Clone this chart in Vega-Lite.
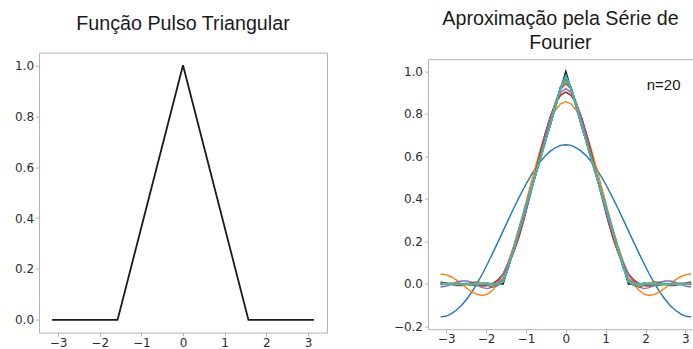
{
  "$schema": "https://vega.github.io/schema/vega-lite/v6.json",
  "background": "white",
  "padding": {"left": 13, "top": 8.6, "right": 0, "bottom": 0},
  "autosize": {"type": "pad"},
  "bounds": "flush",
  "spacing": 101,
  "config": {
    "view": {"stroke": "#b3b3b3", "strokeWidth": 1},
    "axis": {"grid": false, "domain": false, "title": null, "labelFont": "DejaVu Sans", "labelFontSize": 12, "labelColor": "#2b2b2b", "tickColor": "#b3b3b3", "tickSize": 3.5, "tickWidth": 1, "labelPadding": 2, "domainColor": "#b3b3b3", "labelFlush": false, "labelOverlap": false},
    "axisX": {"labelPadding": 1.2},
    "title": {"font": "Liberation Sans", "fontSize": 19.7, "fontWeight": "normal", "color": "#1a1a1a", "anchor": "middle", "baseline": "bottom"}
  },
  "datasets": {
    "pulse": [
      {"x": -3.1416, "y": 0}, {"x": -1.5708, "y": 0}, {"x": 0, "y": 1}, {"x": 1.5708, "y": 0}, {"x": 3.1416, "y": 0}
    ],
    "partial": [
      {"n":1,"x":-3.142,"y":-0.155},{"n":1,"x":-3.011,"y":-0.152},{"n":1,"x":-2.88,"y":-0.141},{"n":1,"x":-2.749,"y":-0.124},{"n":1,"x":-2.618,"y":-0.101},{"n":1,"x":-2.487,"y":-0.072},{"n":1,"x":-2.356,"y":-0.037},{"n":1,"x":-2.225,"y":0.003},{"n":1,"x":-2.094,"y":0.047},{"n":1,"x":-1.963,"y":0.095},{"n":1,"x":-1.833,"y":0.145},{"n":1,"x":-1.702,"y":0.197},{"n":1,"x":-1.571,"y":0.25},{"n":1,"x":-1.44,"y":0.303},{"n":1,"x":-1.309,"y":0.355},{"n":1,"x":-1.178,"y":0.405},{"n":1,"x":-1.047,"y":0.453},{"n":1,"x":-0.916,"y":0.497},{"n":1,"x":-0.785,"y":0.537},{"n":1,"x":-0.654,"y":0.572},{"n":1,"x":-0.524,"y":0.601},{"n":1,"x":-0.393,"y":0.624},{"n":1,"x":-0.262,"y":0.641},{"n":1,"x":-0.131,"y":0.652},{"n":1,"x":0,"y":0.655},{"n":1,"x":0.131,"y":0.652},{"n":1,"x":0.262,"y":0.641},{"n":1,"x":0.393,"y":0.624},{"n":1,"x":0.524,"y":0.601},{"n":1,"x":0.654,"y":0.572},{"n":1,"x":0.785,"y":0.537},{"n":1,"x":0.916,"y":0.497},{"n":1,"x":1.047,"y":0.453},{"n":1,"x":1.178,"y":0.405},{"n":1,"x":1.309,"y":0.355},{"n":1,"x":1.44,"y":0.303},{"n":1,"x":1.571,"y":0.25},{"n":1,"x":1.702,"y":0.197},{"n":1,"x":1.833,"y":0.145},{"n":1,"x":1.963,"y":0.095},{"n":1,"x":2.094,"y":0.047},{"n":1,"x":2.225,"y":0.003},{"n":1,"x":2.356,"y":-0.037},{"n":1,"x":2.487,"y":-0.072},{"n":1,"x":2.618,"y":-0.101},{"n":1,"x":2.749,"y":-0.124},{"n":1,"x":2.88,"y":-0.141},{"n":1,"x":3.011,"y":-0.152},{"n":1,"x":3.142,"y":-0.155},
      {"n":2,"x":-3.142,"y":0.047},{"n":2,"x":-3.011,"y":0.044},{"n":2,"x":-2.88,"y":0.034},{"n":2,"x":-2.749,"y":0.019},{"n":2,"x":-2.618,"y":0},{"n":2,"x":-2.487,"y":-0.019},{"n":2,"x":-2.356,"y":-0.037},{"n":2,"x":-2.225,"y":-0.049},{"n":2,"x":-2.094,"y":-0.054},{"n":2,"x":-1.963,"y":-0.048},{"n":2,"x":-1.833,"y":-0.03},{"n":2,"x":-1.702,"y":0.001},{"n":2,"x":-1.571,"y":0.047},{"n":2,"x":-1.44,"y":0.107},{"n":2,"x":-1.309,"y":0.179},{"n":2,"x":-1.178,"y":0.262},{"n":2,"x":-1.047,"y":0.351},{"n":2,"x":-0.916,"y":0.444},{"n":2,"x":-0.785,"y":0.537},{"n":2,"x":-0.654,"y":0.624},{"n":2,"x":-0.524,"y":0.702},{"n":2,"x":-0.393,"y":0.768},{"n":2,"x":-0.262,"y":0.817},{"n":2,"x":-0.131,"y":0.848},{"n":2,"x":0,"y":0.858},{"n":2,"x":0.131,"y":0.848},{"n":2,"x":0.262,"y":0.817},{"n":2,"x":0.393,"y":0.768},{"n":2,"x":0.524,"y":0.702},{"n":2,"x":0.654,"y":0.624},{"n":2,"x":0.785,"y":0.537},{"n":2,"x":0.916,"y":0.444},{"n":2,"x":1.047,"y":0.351},{"n":2,"x":1.178,"y":0.262},{"n":2,"x":1.309,"y":0.179},{"n":2,"x":1.44,"y":0.107},{"n":2,"x":1.571,"y":0.047},{"n":2,"x":1.702,"y":0.001},{"n":2,"x":1.833,"y":-0.03},{"n":2,"x":1.963,"y":-0.048},{"n":2,"x":2.094,"y":-0.054},{"n":2,"x":2.225,"y":-0.049},{"n":2,"x":2.356,"y":-0.037},{"n":2,"x":2.487,"y":-0.019},{"n":2,"x":2.618,"y":0},{"n":2,"x":2.749,"y":0.019},{"n":2,"x":2.88,"y":0.034},{"n":2,"x":3.011,"y":0.044},{"n":2,"x":3.142,"y":0.047},
      {"n":3,"x":-3.142,"y":0.002},{"n":3,"x":-3.011,"y":0.002},{"n":3,"x":-2.88,"y":0.002},{"n":3,"x":-2.749,"y":0.002},{"n":3,"x":-2.618,"y":0},{"n":3,"x":-2.487,"y":-0.002},{"n":3,"x":-2.356,"y":-0.005},{"n":3,"x":-2.225,"y":-0.008},{"n":3,"x":-2.094,"y":-0.009},{"n":3,"x":-1.963,"y":-0.007},{"n":3,"x":-1.833,"y":0.001},{"n":3,"x":-1.702,"y":0.019},{"n":3,"x":-1.571,"y":0.047},{"n":3,"x":-1.44,"y":0.09},{"n":3,"x":-1.309,"y":0.148},{"n":3,"x":-1.178,"y":0.22},{"n":3,"x":-1.047,"y":0.306},{"n":3,"x":-0.916,"y":0.403},{"n":3,"x":-0.785,"y":0.505},{"n":3,"x":-0.654,"y":0.607},{"n":3,"x":-0.524,"y":0.702},{"n":3,"x":-0.393,"y":0.785},{"n":3,"x":-0.262,"y":0.849},{"n":3,"x":-0.131,"y":0.889},{"n":3,"x":0,"y":0.903},{"n":3,"x":0.131,"y":0.889},{"n":3,"x":0.262,"y":0.849},{"n":3,"x":0.393,"y":0.785},{"n":3,"x":0.524,"y":0.702},{"n":3,"x":0.654,"y":0.607},{"n":3,"x":0.785,"y":0.505},{"n":3,"x":0.916,"y":0.403},{"n":3,"x":1.047,"y":0.306},{"n":3,"x":1.178,"y":0.22},{"n":3,"x":1.309,"y":0.148},{"n":3,"x":1.44,"y":0.09},{"n":3,"x":1.571,"y":0.047},{"n":3,"x":1.702,"y":0.019},{"n":3,"x":1.833,"y":0.001},{"n":3,"x":1.963,"y":-0.007},{"n":3,"x":2.094,"y":-0.009},{"n":3,"x":2.225,"y":-0.008},{"n":3,"x":2.356,"y":-0.005},{"n":3,"x":2.487,"y":-0.002},{"n":3,"x":2.618,"y":0},{"n":3,"x":2.749,"y":0.002},{"n":3,"x":2.88,"y":0.002},{"n":3,"x":3.011,"y":0.002},{"n":3,"x":3.142,"y":0.002},
      {"n":4,"x":-3.142,"y":0.002},{"n":4,"x":-3.011,"y":0.002},{"n":4,"x":-2.88,"y":0.002},{"n":4,"x":-2.749,"y":0.002},{"n":4,"x":-2.618,"y":0},{"n":4,"x":-2.487,"y":-0.002},{"n":4,"x":-2.356,"y":-0.005},{"n":4,"x":-2.225,"y":-0.008},{"n":4,"x":-2.094,"y":-0.009},{"n":4,"x":-1.963,"y":-0.007},{"n":4,"x":-1.833,"y":0.001},{"n":4,"x":-1.702,"y":0.019},{"n":4,"x":-1.571,"y":0.047},{"n":4,"x":-1.44,"y":0.09},{"n":4,"x":-1.309,"y":0.148},{"n":4,"x":-1.178,"y":0.22},{"n":4,"x":-1.047,"y":0.306},{"n":4,"x":-0.916,"y":0.403},{"n":4,"x":-0.785,"y":0.505},{"n":4,"x":-0.654,"y":0.607},{"n":4,"x":-0.524,"y":0.702},{"n":4,"x":-0.393,"y":0.785},{"n":4,"x":-0.262,"y":0.849},{"n":4,"x":-0.131,"y":0.889},{"n":4,"x":0,"y":0.903},{"n":4,"x":0.131,"y":0.889},{"n":4,"x":0.262,"y":0.849},{"n":4,"x":0.393,"y":0.785},{"n":4,"x":0.524,"y":0.702},{"n":4,"x":0.654,"y":0.607},{"n":4,"x":0.785,"y":0.505},{"n":4,"x":0.916,"y":0.403},{"n":4,"x":1.047,"y":0.306},{"n":4,"x":1.178,"y":0.22},{"n":4,"x":1.309,"y":0.148},{"n":4,"x":1.44,"y":0.09},{"n":4,"x":1.571,"y":0.047},{"n":4,"x":1.702,"y":0.019},{"n":4,"x":1.833,"y":0.001},{"n":4,"x":1.963,"y":-0.007},{"n":4,"x":2.094,"y":-0.009},{"n":4,"x":2.225,"y":-0.008},{"n":4,"x":2.356,"y":-0.005},{"n":4,"x":2.487,"y":-0.002},{"n":4,"x":2.618,"y":0},{"n":4,"x":2.749,"y":0.002},{"n":4,"x":2.88,"y":0.002},{"n":4,"x":3.011,"y":0.002},{"n":4,"x":3.142,"y":0.002},
      {"n":5,"x":-3.142,"y":-0.014},{"n":5,"x":-3.011,"y":-0.011},{"n":5,"x":-2.88,"y":-0.002},{"n":5,"x":-2.749,"y":0.008},{"n":5,"x":-2.618,"y":0.014},{"n":5,"x":-2.487,"y":0.014},{"n":5,"x":-2.356,"y":0.007},{"n":5,"x":-2.225,"y":-0.005},{"n":5,"x":-2.094,"y":-0.017},{"n":5,"x":-1.963,"y":-0.022},{"n":5,"x":-1.833,"y":-0.014},{"n":5,"x":-1.702,"y":0.009},{"n":5,"x":-1.571,"y":0.047},{"n":5,"x":-1.44,"y":0.1},{"n":5,"x":-1.309,"y":0.163},{"n":5,"x":-1.178,"y":0.235},{"n":5,"x":-1.047,"y":0.314},{"n":5,"x":-0.916,"y":0.401},{"n":5,"x":-0.785,"y":0.493},{"n":5,"x":-0.654,"y":0.591},{"n":5,"x":-0.524,"y":0.688},{"n":5,"x":-0.393,"y":0.779},{"n":5,"x":-0.262,"y":0.853},{"n":5,"x":-0.131,"y":0.902},{"n":5,"x":0,"y":0.919},{"n":5,"x":0.131,"y":0.902},{"n":5,"x":0.262,"y":0.853},{"n":5,"x":0.393,"y":0.779},{"n":5,"x":0.524,"y":0.688},{"n":5,"x":0.654,"y":0.591},{"n":5,"x":0.785,"y":0.493},{"n":5,"x":0.916,"y":0.401},{"n":5,"x":1.047,"y":0.314},{"n":5,"x":1.178,"y":0.235},{"n":5,"x":1.309,"y":0.163},{"n":5,"x":1.44,"y":0.1},{"n":5,"x":1.571,"y":0.047},{"n":5,"x":1.702,"y":0.009},{"n":5,"x":1.833,"y":-0.014},{"n":5,"x":1.963,"y":-0.022},{"n":5,"x":2.094,"y":-0.017},{"n":5,"x":2.225,"y":-0.005},{"n":5,"x":2.356,"y":0.007},{"n":5,"x":2.487,"y":0.014},{"n":5,"x":2.618,"y":0.014},{"n":5,"x":2.749,"y":0.008},{"n":5,"x":2.88,"y":-0.002},{"n":5,"x":3.011,"y":-0.011},{"n":5,"x":3.142,"y":-0.014},
      {"n":6,"x":-3.142,"y":0.009},{"n":6,"x":-3.011,"y":0.005},{"n":6,"x":-2.88,"y":-0.002},{"n":6,"x":-2.749,"y":-0.008},{"n":6,"x":-2.618,"y":-0.008},{"n":6,"x":-2.487,"y":-0.002},{"n":6,"x":-2.356,"y":0.007},{"n":6,"x":-2.225,"y":0.01},{"n":6,"x":-2.094,"y":0.005},{"n":6,"x":-1.963,"y":-0.006},{"n":6,"x":-1.833,"y":-0.014},{"n":6,"x":-1.702,"y":-0.007},{"n":6,"x":-1.571,"y":0.025},{"n":6,"x":-1.44,"y":0.084},{"n":6,"x":-1.309,"y":0.163},{"n":6,"x":-1.178,"y":0.251},{"n":6,"x":-1.047,"y":0.337},{"n":6,"x":-0.916,"y":0.416},{"n":6,"x":-0.785,"y":0.493},{"n":6,"x":-0.654,"y":0.575},{"n":6,"x":-0.524,"y":0.666},{"n":6,"x":-0.393,"y":0.763},{"n":6,"x":-0.262,"y":0.853},{"n":6,"x":-0.131,"y":0.918},{"n":6,"x":0,"y":0.942},{"n":6,"x":0.131,"y":0.918},{"n":6,"x":0.262,"y":0.853},{"n":6,"x":0.393,"y":0.763},{"n":6,"x":0.524,"y":0.666},{"n":6,"x":0.654,"y":0.575},{"n":6,"x":0.785,"y":0.493},{"n":6,"x":0.916,"y":0.416},{"n":6,"x":1.047,"y":0.337},{"n":6,"x":1.178,"y":0.251},{"n":6,"x":1.309,"y":0.163},{"n":6,"x":1.44,"y":0.084},{"n":6,"x":1.571,"y":0.025},{"n":6,"x":1.702,"y":-0.007},{"n":6,"x":1.833,"y":-0.014},{"n":6,"x":1.963,"y":-0.006},{"n":6,"x":2.094,"y":0.005},{"n":6,"x":2.225,"y":0.01},{"n":6,"x":2.356,"y":0.007},{"n":6,"x":2.487,"y":-0.002},{"n":6,"x":2.618,"y":-0.008},{"n":6,"x":2.749,"y":-0.008},{"n":6,"x":2.88,"y":-0.002},{"n":6,"x":3.011,"y":0.005},{"n":6,"x":3.142,"y":0.009},
      {"n":7,"x":-3.142,"y":0},{"n":7,"x":-3.011,"y":0},{"n":7,"x":-2.88,"y":0},{"n":7,"x":-2.749,"y":0},{"n":7,"x":-2.618,"y":-0.001},{"n":7,"x":-2.487,"y":-0.001},{"n":7,"x":-2.356,"y":0.001},{"n":7,"x":-2.225,"y":0.002},{"n":7,"x":-2.094,"y":0.001},{"n":7,"x":-1.963,"y":-0.003},{"n":7,"x":-1.833,"y":-0.006},{"n":7,"x":-1.702,"y":-0.001},{"n":7,"x":-1.571,"y":0.025},{"n":7,"x":-1.44,"y":0.077},{"n":7,"x":-1.309,"y":0.155},{"n":7,"x":-1.178,"y":0.248},{"n":7,"x":-1.047,"y":0.341},{"n":7,"x":-0.916,"y":0.425},{"n":7,"x":-0.785,"y":0.499},{"n":7,"x":-0.654,"y":0.574},{"n":7,"x":-0.524,"y":0.659},{"n":7,"x":-0.393,"y":0.755},{"n":7,"x":-0.262,"y":0.851},{"n":7,"x":-0.131,"y":0.923},{"n":7,"x":0,"y":0.95},{"n":7,"x":0.131,"y":0.923},{"n":7,"x":0.262,"y":0.851},{"n":7,"x":0.393,"y":0.755},{"n":7,"x":0.524,"y":0.659},{"n":7,"x":0.654,"y":0.574},{"n":7,"x":0.785,"y":0.499},{"n":7,"x":0.916,"y":0.425},{"n":7,"x":1.047,"y":0.341},{"n":7,"x":1.178,"y":0.248},{"n":7,"x":1.309,"y":0.155},{"n":7,"x":1.44,"y":0.077},{"n":7,"x":1.571,"y":0.025},{"n":7,"x":1.702,"y":-0.001},{"n":7,"x":1.833,"y":-0.006},{"n":7,"x":1.963,"y":-0.003},{"n":7,"x":2.094,"y":0.001},{"n":7,"x":2.225,"y":0.002},{"n":7,"x":2.356,"y":0.001},{"n":7,"x":2.487,"y":-0.001},{"n":7,"x":2.618,"y":-0.001},{"n":7,"x":2.749,"y":0},{"n":7,"x":2.88,"y":0},{"n":7,"x":3.011,"y":0},{"n":7,"x":3.142,"y":0},
      {"n":8,"x":-3.142,"y":0},{"n":8,"x":-3.011,"y":0},{"n":8,"x":-2.88,"y":0},{"n":8,"x":-2.749,"y":0},{"n":8,"x":-2.618,"y":-0.001},{"n":8,"x":-2.487,"y":-0.001},{"n":8,"x":-2.356,"y":0.001},{"n":8,"x":-2.225,"y":0.002},{"n":8,"x":-2.094,"y":0.001},{"n":8,"x":-1.963,"y":-0.003},{"n":8,"x":-1.833,"y":-0.006},{"n":8,"x":-1.702,"y":-0.001},{"n":8,"x":-1.571,"y":0.025},{"n":8,"x":-1.44,"y":0.077},{"n":8,"x":-1.309,"y":0.155},{"n":8,"x":-1.178,"y":0.248},{"n":8,"x":-1.047,"y":0.341},{"n":8,"x":-0.916,"y":0.425},{"n":8,"x":-0.785,"y":0.499},{"n":8,"x":-0.654,"y":0.574},{"n":8,"x":-0.524,"y":0.659},{"n":8,"x":-0.393,"y":0.755},{"n":8,"x":-0.262,"y":0.851},{"n":8,"x":-0.131,"y":0.923},{"n":8,"x":0,"y":0.95},{"n":8,"x":0.131,"y":0.923},{"n":8,"x":0.262,"y":0.851},{"n":8,"x":0.393,"y":0.755},{"n":8,"x":0.524,"y":0.659},{"n":8,"x":0.654,"y":0.574},{"n":8,"x":0.785,"y":0.499},{"n":8,"x":0.916,"y":0.425},{"n":8,"x":1.047,"y":0.341},{"n":8,"x":1.178,"y":0.248},{"n":8,"x":1.309,"y":0.155},{"n":8,"x":1.44,"y":0.077},{"n":8,"x":1.571,"y":0.025},{"n":8,"x":1.702,"y":-0.001},{"n":8,"x":1.833,"y":-0.006},{"n":8,"x":1.963,"y":-0.003},{"n":8,"x":2.094,"y":0.001},{"n":8,"x":2.225,"y":0.002},{"n":8,"x":2.356,"y":0.001},{"n":8,"x":2.487,"y":-0.001},{"n":8,"x":2.618,"y":-0.001},{"n":8,"x":2.749,"y":0},{"n":8,"x":2.88,"y":0},{"n":8,"x":3.011,"y":0},{"n":8,"x":3.142,"y":0},
      {"n":9,"x":-3.142,"y":-0.005},{"n":9,"x":-3.011,"y":-0.002},{"n":9,"x":-2.88,"y":0.004},{"n":9,"x":-2.749,"y":0.004},{"n":9,"x":-2.618,"y":-0.001},{"n":9,"x":-2.487,"y":-0.005},{"n":9,"x":-2.356,"y":-0.003},{"n":9,"x":-2.225,"y":0.004},{"n":9,"x":-2.094,"y":0.006},{"n":9,"x":-1.963,"y":-0.001},{"n":9,"x":-1.833,"y":-0.01},{"n":9,"x":-1.702,"y":-0.005},{"n":9,"x":-1.571,"y":0.025},{"n":9,"x":-1.44,"y":0.082},{"n":9,"x":-1.309,"y":0.159},{"n":9,"x":-1.178,"y":0.246},{"n":9,"x":-1.047,"y":0.336},{"n":9,"x":-0.916,"y":0.423},{"n":9,"x":-0.785,"y":0.503},{"n":9,"x":-0.654,"y":0.578},{"n":9,"x":-0.524,"y":0.659},{"n":9,"x":-0.393,"y":0.751},{"n":9,"x":-0.262,"y":0.847},{"n":9,"x":-0.131,"y":0.925},{"n":9,"x":0,"y":0.955},{"n":9,"x":0.131,"y":0.925},{"n":9,"x":0.262,"y":0.847},{"n":9,"x":0.393,"y":0.751},{"n":9,"x":0.524,"y":0.659},{"n":9,"x":0.654,"y":0.578},{"n":9,"x":0.785,"y":0.503},{"n":9,"x":0.916,"y":0.423},{"n":9,"x":1.047,"y":0.336},{"n":9,"x":1.178,"y":0.246},{"n":9,"x":1.309,"y":0.159},{"n":9,"x":1.44,"y":0.082},{"n":9,"x":1.571,"y":0.025},{"n":9,"x":1.702,"y":-0.005},{"n":9,"x":1.833,"y":-0.01},{"n":9,"x":1.963,"y":-0.001},{"n":9,"x":2.094,"y":0.006},{"n":9,"x":2.225,"y":0.004},{"n":9,"x":2.356,"y":-0.003},{"n":9,"x":2.487,"y":-0.005},{"n":9,"x":2.618,"y":-0.001},{"n":9,"x":2.749,"y":0.004},{"n":9,"x":2.88,"y":0.004},{"n":9,"x":3.011,"y":-0.002},{"n":9,"x":3.142,"y":-0.005},
      {"n":10,"x":-3.142,"y":0.003},{"n":10,"x":-3.011,"y":0.001},{"n":10,"x":-2.88,"y":-0.003},{"n":10,"x":-2.749,"y":-0.002},{"n":10,"x":-2.618,"y":0.003},{"n":10,"x":-2.487,"y":0.003},{"n":10,"x":-2.356,"y":-0.003},{"n":10,"x":-2.225,"y":-0.004},{"n":10,"x":-2.094,"y":0.002},{"n":10,"x":-1.963,"y":0.005},{"n":10,"x":-1.833,"y":-0.003},{"n":10,"x":-1.702,"y":-0.007},{"n":10,"x":-1.571,"y":0.017},{"n":10,"x":-1.44,"y":0.08},{"n":10,"x":-1.309,"y":0.166},{"n":10,"x":-1.178,"y":0.252},{"n":10,"x":-1.047,"y":0.332},{"n":10,"x":-0.916,"y":0.415},{"n":10,"x":-0.785,"y":0.503},{"n":10,"x":-0.654,"y":0.586},{"n":10,"x":-0.524,"y":0.663},{"n":10,"x":-0.393,"y":0.745},{"n":10,"x":-0.262,"y":0.84},{"n":10,"x":-0.131,"y":0.927},{"n":10,"x":0,"y":0.963},{"n":10,"x":0.131,"y":0.927},{"n":10,"x":0.262,"y":0.84},{"n":10,"x":0.393,"y":0.745},{"n":10,"x":0.524,"y":0.663},{"n":10,"x":0.654,"y":0.586},{"n":10,"x":0.785,"y":0.503},{"n":10,"x":0.916,"y":0.415},{"n":10,"x":1.047,"y":0.332},{"n":10,"x":1.178,"y":0.252},{"n":10,"x":1.309,"y":0.166},{"n":10,"x":1.44,"y":0.08},{"n":10,"x":1.571,"y":0.017},{"n":10,"x":1.702,"y":-0.007},{"n":10,"x":1.833,"y":-0.003},{"n":10,"x":1.963,"y":0.005},{"n":10,"x":2.094,"y":0.002},{"n":10,"x":2.225,"y":-0.004},{"n":10,"x":2.356,"y":-0.003},{"n":10,"x":2.487,"y":0.003},{"n":10,"x":2.618,"y":0.003},{"n":10,"x":2.749,"y":-0.002},{"n":10,"x":2.88,"y":-0.003},{"n":10,"x":3.011,"y":0.001},{"n":10,"x":3.142,"y":0.003},
      {"n":11,"x":-3.142,"y":0},{"n":11,"x":-3.011,"y":0},{"n":11,"x":-2.88,"y":0},{"n":11,"x":-2.749,"y":0},{"n":11,"x":-2.618,"y":0},{"n":11,"x":-2.487,"y":0.001},{"n":11,"x":-2.356,"y":0},{"n":11,"x":-2.225,"y":-0.001},{"n":11,"x":-2.094,"y":0.001},{"n":11,"x":-1.963,"y":0.002},{"n":11,"x":-1.833,"y":-0.002},{"n":11,"x":-1.702,"y":-0.004},{"n":11,"x":-1.571,"y":0.017},{"n":11,"x":-1.44,"y":0.077},{"n":11,"x":-1.309,"y":0.165},{"n":11,"x":-1.178,"y":0.255},{"n":11,"x":-1.047,"y":0.334},{"n":11,"x":-0.916,"y":0.412},{"n":11,"x":-0.785,"y":0.5},{"n":11,"x":-0.654,"y":0.588},{"n":11,"x":-0.524,"y":0.666},{"n":11,"x":-0.393,"y":0.744},{"n":11,"x":-0.262,"y":0.837},{"n":11,"x":-0.131,"y":0.927},{"n":11,"x":0,"y":0.966},{"n":11,"x":0.131,"y":0.927},{"n":11,"x":0.262,"y":0.837},{"n":11,"x":0.393,"y":0.744},{"n":11,"x":0.524,"y":0.666},{"n":11,"x":0.654,"y":0.588},{"n":11,"x":0.785,"y":0.5},{"n":11,"x":0.916,"y":0.412},{"n":11,"x":1.047,"y":0.334},{"n":11,"x":1.178,"y":0.255},{"n":11,"x":1.309,"y":0.165},{"n":11,"x":1.44,"y":0.077},{"n":11,"x":1.571,"y":0.017},{"n":11,"x":1.702,"y":-0.004},{"n":11,"x":1.833,"y":-0.002},{"n":11,"x":1.963,"y":0.002},{"n":11,"x":2.094,"y":0.001},{"n":11,"x":2.225,"y":-0.001},{"n":11,"x":2.356,"y":0},{"n":11,"x":2.487,"y":0.001},{"n":11,"x":2.618,"y":0},{"n":11,"x":2.749,"y":0},{"n":11,"x":2.88,"y":0},{"n":11,"x":3.011,"y":0},{"n":11,"x":3.142,"y":0},
      {"n":12,"x":-3.142,"y":0},{"n":12,"x":-3.011,"y":0},{"n":12,"x":-2.88,"y":0},{"n":12,"x":-2.749,"y":0},{"n":12,"x":-2.618,"y":0},{"n":12,"x":-2.487,"y":0.001},{"n":12,"x":-2.356,"y":0},{"n":12,"x":-2.225,"y":-0.001},{"n":12,"x":-2.094,"y":0.001},{"n":12,"x":-1.963,"y":0.002},{"n":12,"x":-1.833,"y":-0.002},{"n":12,"x":-1.702,"y":-0.004},{"n":12,"x":-1.571,"y":0.017},{"n":12,"x":-1.44,"y":0.077},{"n":12,"x":-1.309,"y":0.165},{"n":12,"x":-1.178,"y":0.255},{"n":12,"x":-1.047,"y":0.334},{"n":12,"x":-0.916,"y":0.412},{"n":12,"x":-0.785,"y":0.5},{"n":12,"x":-0.654,"y":0.588},{"n":12,"x":-0.524,"y":0.666},{"n":12,"x":-0.393,"y":0.744},{"n":12,"x":-0.262,"y":0.837},{"n":12,"x":-0.131,"y":0.927},{"n":12,"x":0,"y":0.966},{"n":12,"x":0.131,"y":0.927},{"n":12,"x":0.262,"y":0.837},{"n":12,"x":0.393,"y":0.744},{"n":12,"x":0.524,"y":0.666},{"n":12,"x":0.654,"y":0.588},{"n":12,"x":0.785,"y":0.5},{"n":12,"x":0.916,"y":0.412},{"n":12,"x":1.047,"y":0.334},{"n":12,"x":1.178,"y":0.255},{"n":12,"x":1.309,"y":0.165},{"n":12,"x":1.44,"y":0.077},{"n":12,"x":1.571,"y":0.017},{"n":12,"x":1.702,"y":-0.004},{"n":12,"x":1.833,"y":-0.002},{"n":12,"x":1.963,"y":0.002},{"n":12,"x":2.094,"y":0.001},{"n":12,"x":2.225,"y":-0.001},{"n":12,"x":2.356,"y":0},{"n":12,"x":2.487,"y":0.001},{"n":12,"x":2.618,"y":0},{"n":12,"x":2.749,"y":0},{"n":12,"x":2.88,"y":0},{"n":12,"x":3.011,"y":0},{"n":12,"x":3.142,"y":0},
      {"n":13,"x":-3.142,"y":-0.002},{"n":13,"x":-3.011,"y":0},{"n":13,"x":-2.88,"y":0.002},{"n":13,"x":-2.749,"y":-0.001},{"n":13,"x":-2.618,"y":-0.002},{"n":13,"x":-2.487,"y":0.002},{"n":13,"x":-2.356,"y":0.001},{"n":13,"x":-2.225,"y":-0.003},{"n":13,"x":-2.094,"y":-0.001},{"n":13,"x":-1.963,"y":0.004},{"n":13,"x":-1.833,"y":-0.001},{"n":13,"x":-1.702,"y":-0.006},{"n":13,"x":-1.571,"y":0.017},{"n":13,"x":-1.44,"y":0.079},{"n":13,"x":-1.309,"y":0.164},{"n":13,"x":-1.178,"y":0.253},{"n":13,"x":-1.047,"y":0.335},{"n":13,"x":-0.916,"y":0.414},{"n":13,"x":-0.785,"y":0.499},{"n":13,"x":-0.654,"y":0.587},{"n":13,"x":-0.524,"y":0.668},{"n":13,"x":-0.393,"y":0.744},{"n":13,"x":-0.262,"y":0.835},{"n":13,"x":-0.131,"y":0.927},{"n":13,"x":0,"y":0.969},{"n":13,"x":0.131,"y":0.927},{"n":13,"x":0.262,"y":0.835},{"n":13,"x":0.393,"y":0.744},{"n":13,"x":0.524,"y":0.668},{"n":13,"x":0.654,"y":0.587},{"n":13,"x":0.785,"y":0.499},{"n":13,"x":0.916,"y":0.414},{"n":13,"x":1.047,"y":0.335},{"n":13,"x":1.178,"y":0.253},{"n":13,"x":1.309,"y":0.164},{"n":13,"x":1.44,"y":0.079},{"n":13,"x":1.571,"y":0.017},{"n":13,"x":1.702,"y":-0.006},{"n":13,"x":1.833,"y":-0.001},{"n":13,"x":1.963,"y":0.004},{"n":13,"x":2.094,"y":-0.001},{"n":13,"x":2.225,"y":-0.003},{"n":13,"x":2.356,"y":0.001},{"n":13,"x":2.487,"y":0.002},{"n":13,"x":2.618,"y":-0.002},{"n":13,"x":2.749,"y":-0.001},{"n":13,"x":2.88,"y":0.002},{"n":13,"x":3.011,"y":0},{"n":13,"x":3.142,"y":-0.002},
      {"n":14,"x":-3.142,"y":0.002},{"n":14,"x":-3.011,"y":-0.001},{"n":14,"x":-2.88,"y":-0.001},{"n":14,"x":-2.749,"y":0.002},{"n":14,"x":-2.618,"y":0},{"n":14,"x":-2.487,"y":-0.002},{"n":14,"x":-2.356,"y":0.001},{"n":14,"x":-2.225,"y":0.001},{"n":14,"x":-2.094,"y":-0.003},{"n":14,"x":-1.963,"y":0.001},{"n":14,"x":-1.833,"y":0.002},{"n":14,"x":-1.702,"y":-0.005},{"n":14,"x":-1.571,"y":0.013},{"n":14,"x":-1.44,"y":0.08},{"n":14,"x":-1.309,"y":0.168},{"n":14,"x":-1.178,"y":0.25},{"n":14,"x":-1.047,"y":0.333},{"n":14,"x":-0.916,"y":0.418},{"n":14,"x":-0.785,"y":0.499},{"n":14,"x":-0.654,"y":0.583},{"n":14,"x":-0.524,"y":0.67},{"n":14,"x":-0.393,"y":0.747},{"n":14,"x":-0.262,"y":0.831},{"n":14,"x":-0.131,"y":0.926},{"n":14,"x":0,"y":0.973},{"n":14,"x":0.131,"y":0.926},{"n":14,"x":0.262,"y":0.831},{"n":14,"x":0.393,"y":0.747},{"n":14,"x":0.524,"y":0.67},{"n":14,"x":0.654,"y":0.583},{"n":14,"x":0.785,"y":0.499},{"n":14,"x":0.916,"y":0.418},{"n":14,"x":1.047,"y":0.333},{"n":14,"x":1.178,"y":0.25},{"n":14,"x":1.309,"y":0.168},{"n":14,"x":1.44,"y":0.08},{"n":14,"x":1.571,"y":0.013},{"n":14,"x":1.702,"y":-0.005},{"n":14,"x":1.833,"y":0.002},{"n":14,"x":1.963,"y":0.001},{"n":14,"x":2.094,"y":-0.003},{"n":14,"x":2.225,"y":0.001},{"n":14,"x":2.356,"y":0.001},{"n":14,"x":2.487,"y":-0.002},{"n":14,"x":2.618,"y":0},{"n":14,"x":2.749,"y":0.002},{"n":14,"x":2.88,"y":-0.001},{"n":14,"x":3.011,"y":-0.001},{"n":14,"x":3.142,"y":0.002},
      {"n":15,"x":-3.142,"y":0},{"n":15,"x":-3.011,"y":0},{"n":15,"x":-2.88,"y":0},{"n":15,"x":-2.749,"y":0},{"n":15,"x":-2.618,"y":0},{"n":15,"x":-2.487,"y":0},{"n":15,"x":-2.356,"y":0},{"n":15,"x":-2.225,"y":0},{"n":15,"x":-2.094,"y":-0.001},{"n":15,"x":-1.963,"y":0},{"n":15,"x":-1.833,"y":0.001},{"n":15,"x":-1.702,"y":-0.004},{"n":15,"x":-1.571,"y":0.013},{"n":15,"x":-1.44,"y":0.078},{"n":15,"x":-1.309,"y":0.169},{"n":15,"x":-1.178,"y":0.25},{"n":15,"x":-1.047,"y":0.331},{"n":15,"x":-0.916,"y":0.419},{"n":15,"x":-0.785,"y":0.5},{"n":15,"x":-0.654,"y":0.581},{"n":15,"x":-0.524,"y":0.67},{"n":15,"x":-0.393,"y":0.749},{"n":15,"x":-0.262,"y":0.83},{"n":15,"x":-0.131,"y":0.925},{"n":15,"x":0,"y":0.975},{"n":15,"x":0.131,"y":0.925},{"n":15,"x":0.262,"y":0.83},{"n":15,"x":0.393,"y":0.749},{"n":15,"x":0.524,"y":0.67},{"n":15,"x":0.654,"y":0.581},{"n":15,"x":0.785,"y":0.5},{"n":15,"x":0.916,"y":0.419},{"n":15,"x":1.047,"y":0.331},{"n":15,"x":1.178,"y":0.25},{"n":15,"x":1.309,"y":0.169},{"n":15,"x":1.44,"y":0.078},{"n":15,"x":1.571,"y":0.013},{"n":15,"x":1.702,"y":-0.004},{"n":15,"x":1.833,"y":0.001},{"n":15,"x":1.963,"y":0},{"n":15,"x":2.094,"y":-0.001},{"n":15,"x":2.225,"y":0},{"n":15,"x":2.356,"y":0},{"n":15,"x":2.487,"y":0},{"n":15,"x":2.618,"y":0},{"n":15,"x":2.749,"y":0},{"n":15,"x":2.88,"y":0},{"n":15,"x":3.011,"y":0},{"n":15,"x":3.142,"y":0},
      {"n":16,"x":-3.142,"y":0},{"n":16,"x":-3.011,"y":0},{"n":16,"x":-2.88,"y":0},{"n":16,"x":-2.749,"y":0},{"n":16,"x":-2.618,"y":0},{"n":16,"x":-2.487,"y":0},{"n":16,"x":-2.356,"y":0},{"n":16,"x":-2.225,"y":0},{"n":16,"x":-2.094,"y":-0.001},{"n":16,"x":-1.963,"y":0},{"n":16,"x":-1.833,"y":0.001},{"n":16,"x":-1.702,"y":-0.004},{"n":16,"x":-1.571,"y":0.013},{"n":16,"x":-1.44,"y":0.078},{"n":16,"x":-1.309,"y":0.169},{"n":16,"x":-1.178,"y":0.25},{"n":16,"x":-1.047,"y":0.331},{"n":16,"x":-0.916,"y":0.419},{"n":16,"x":-0.785,"y":0.5},{"n":16,"x":-0.654,"y":0.581},{"n":16,"x":-0.524,"y":0.67},{"n":16,"x":-0.393,"y":0.749},{"n":16,"x":-0.262,"y":0.83},{"n":16,"x":-0.131,"y":0.925},{"n":16,"x":0,"y":0.975},{"n":16,"x":0.131,"y":0.925},{"n":16,"x":0.262,"y":0.83},{"n":16,"x":0.393,"y":0.749},{"n":16,"x":0.524,"y":0.67},{"n":16,"x":0.654,"y":0.581},{"n":16,"x":0.785,"y":0.5},{"n":16,"x":0.916,"y":0.419},{"n":16,"x":1.047,"y":0.331},{"n":16,"x":1.178,"y":0.25},{"n":16,"x":1.309,"y":0.169},{"n":16,"x":1.44,"y":0.078},{"n":16,"x":1.571,"y":0.013},{"n":16,"x":1.702,"y":-0.004},{"n":16,"x":1.833,"y":0.001},{"n":16,"x":1.963,"y":0},{"n":16,"x":2.094,"y":-0.001},{"n":16,"x":2.225,"y":0},{"n":16,"x":2.356,"y":0},{"n":16,"x":2.487,"y":0},{"n":16,"x":2.618,"y":0},{"n":16,"x":2.749,"y":0},{"n":16,"x":2.88,"y":0},{"n":16,"x":3.011,"y":0},{"n":16,"x":3.142,"y":0},
      {"n":17,"x":-3.142,"y":-0.001},{"n":17,"x":-3.011,"y":0.001},{"n":17,"x":-2.88,"y":0},{"n":17,"x":-2.749,"y":-0.001},{"n":17,"x":-2.618,"y":0.001},{"n":17,"x":-2.487,"y":-0.001},{"n":17,"x":-2.356,"y":-0.001},{"n":17,"x":-2.225,"y":0.002},{"n":17,"x":-2.094,"y":-0.002},{"n":17,"x":-1.963,"y":0},{"n":17,"x":-1.833,"y":0.002},{"n":17,"x":-1.702,"y":-0.005},{"n":17,"x":-1.571,"y":0.013},{"n":17,"x":-1.44,"y":0.079},{"n":17,"x":-1.309,"y":0.168},{"n":17,"x":-1.178,"y":0.251},{"n":17,"x":-1.047,"y":0.332},{"n":17,"x":-0.916,"y":0.417},{"n":17,"x":-0.785,"y":0.501},{"n":17,"x":-0.654,"y":0.581},{"n":17,"x":-0.524,"y":0.668},{"n":17,"x":-0.393,"y":0.75},{"n":17,"x":-0.262,"y":0.83},{"n":17,"x":-0.131,"y":0.925},{"n":17,"x":0,"y":0.976},{"n":17,"x":0.131,"y":0.925},{"n":17,"x":0.262,"y":0.83},{"n":17,"x":0.393,"y":0.75},{"n":17,"x":0.524,"y":0.668},{"n":17,"x":0.654,"y":0.581},{"n":17,"x":0.785,"y":0.501},{"n":17,"x":0.916,"y":0.417},{"n":17,"x":1.047,"y":0.332},{"n":17,"x":1.178,"y":0.251},{"n":17,"x":1.309,"y":0.168},{"n":17,"x":1.44,"y":0.079},{"n":17,"x":1.571,"y":0.013},{"n":17,"x":1.702,"y":-0.005},{"n":17,"x":1.833,"y":0.002},{"n":17,"x":1.963,"y":0},{"n":17,"x":2.094,"y":-0.002},{"n":17,"x":2.225,"y":0.002},{"n":17,"x":2.356,"y":-0.001},{"n":17,"x":2.487,"y":-0.001},{"n":17,"x":2.618,"y":0.001},{"n":17,"x":2.749,"y":-0.001},{"n":17,"x":2.88,"y":0},{"n":17,"x":3.011,"y":0.001},{"n":17,"x":3.142,"y":-0.001},
      {"n":18,"x":-3.142,"y":0.001},{"n":18,"x":-3.011,"y":-0.001},{"n":18,"x":-2.88,"y":0},{"n":18,"x":-2.749,"y":0.001},{"n":18,"x":-2.618,"y":-0.001},{"n":18,"x":-2.487,"y":0.001},{"n":18,"x":-2.356,"y":-0.001},{"n":18,"x":-2.225,"y":0},{"n":18,"x":-2.094,"y":0.001},{"n":18,"x":-1.963,"y":-0.002},{"n":18,"x":-1.833,"y":0.002},{"n":18,"x":-1.702,"y":-0.003},{"n":18,"x":-1.571,"y":0.01},{"n":18,"x":-1.44,"y":0.081},{"n":18,"x":-1.309,"y":0.168},{"n":18,"x":-1.178,"y":0.249},{"n":18,"x":-1.047,"y":0.334},{"n":18,"x":-0.916,"y":0.416},{"n":18,"x":-0.785,"y":0.501},{"n":18,"x":-0.654,"y":0.583},{"n":18,"x":-0.524,"y":0.666},{"n":18,"x":-0.393,"y":0.752},{"n":18,"x":-0.262,"y":0.83},{"n":18,"x":-0.131,"y":0.923},{"n":18,"x":0,"y":0.979},{"n":18,"x":0.131,"y":0.923},{"n":18,"x":0.262,"y":0.83},{"n":18,"x":0.393,"y":0.752},{"n":18,"x":0.524,"y":0.666},{"n":18,"x":0.654,"y":0.583},{"n":18,"x":0.785,"y":0.501},{"n":18,"x":0.916,"y":0.416},{"n":18,"x":1.047,"y":0.334},{"n":18,"x":1.178,"y":0.249},{"n":18,"x":1.309,"y":0.168},{"n":18,"x":1.44,"y":0.081},{"n":18,"x":1.571,"y":0.01},{"n":18,"x":1.702,"y":-0.003},{"n":18,"x":1.833,"y":0.002},{"n":18,"x":1.963,"y":-0.002},{"n":18,"x":2.094,"y":0.001},{"n":18,"x":2.225,"y":0},{"n":18,"x":2.356,"y":-0.001},{"n":18,"x":2.487,"y":0.001},{"n":18,"x":2.618,"y":-0.001},{"n":18,"x":2.749,"y":0.001},{"n":18,"x":2.88,"y":0},{"n":18,"x":3.011,"y":-0.001},{"n":18,"x":3.142,"y":0.001},
      {"n":19,"x":-3.142,"y":0},{"n":19,"x":-3.011,"y":0},{"n":19,"x":-2.88,"y":0},{"n":19,"x":-2.749,"y":0},{"n":19,"x":-2.618,"y":0},{"n":19,"x":-2.487,"y":0},{"n":19,"x":-2.356,"y":0},{"n":19,"x":-2.225,"y":0},{"n":19,"x":-2.094,"y":0},{"n":19,"x":-1.963,"y":-0.001},{"n":19,"x":-1.833,"y":0.001},{"n":19,"x":-1.702,"y":-0.002},{"n":19,"x":-1.571,"y":0.01},{"n":19,"x":-1.44,"y":0.081},{"n":19,"x":-1.309,"y":0.169},{"n":19,"x":-1.178,"y":0.248},{"n":19,"x":-1.047,"y":0.335},{"n":19,"x":-0.916,"y":0.416},{"n":19,"x":-0.785,"y":0.5},{"n":19,"x":-0.654,"y":0.584},{"n":19,"x":-0.524,"y":0.665},{"n":19,"x":-0.393,"y":0.753},{"n":19,"x":-0.262,"y":0.83},{"n":19,"x":-0.131,"y":0.922},{"n":19,"x":0,"y":0.98},{"n":19,"x":0.131,"y":0.922},{"n":19,"x":0.262,"y":0.83},{"n":19,"x":0.393,"y":0.753},{"n":19,"x":0.524,"y":0.665},{"n":19,"x":0.654,"y":0.584},{"n":19,"x":0.785,"y":0.5},{"n":19,"x":0.916,"y":0.416},{"n":19,"x":1.047,"y":0.335},{"n":19,"x":1.178,"y":0.248},{"n":19,"x":1.309,"y":0.169},{"n":19,"x":1.44,"y":0.081},{"n":19,"x":1.571,"y":0.01},{"n":19,"x":1.702,"y":-0.002},{"n":19,"x":1.833,"y":0.001},{"n":19,"x":1.963,"y":-0.001},{"n":19,"x":2.094,"y":0},{"n":19,"x":2.225,"y":0},{"n":19,"x":2.356,"y":0},{"n":19,"x":2.487,"y":0},{"n":19,"x":2.618,"y":0},{"n":19,"x":2.749,"y":0},{"n":19,"x":2.88,"y":0},{"n":19,"x":3.011,"y":0},{"n":19,"x":3.142,"y":0},
      {"n":20,"x":-3.142,"y":0},{"n":20,"x":-3.011,"y":0},{"n":20,"x":-2.88,"y":0},{"n":20,"x":-2.749,"y":0},{"n":20,"x":-2.618,"y":0},{"n":20,"x":-2.487,"y":0},{"n":20,"x":-2.356,"y":0},{"n":20,"x":-2.225,"y":0},{"n":20,"x":-2.094,"y":0},{"n":20,"x":-1.963,"y":-0.001},{"n":20,"x":-1.833,"y":0.001},{"n":20,"x":-1.702,"y":-0.002},{"n":20,"x":-1.571,"y":0.01},{"n":20,"x":-1.44,"y":0.081},{"n":20,"x":-1.309,"y":0.169},{"n":20,"x":-1.178,"y":0.248},{"n":20,"x":-1.047,"y":0.335},{"n":20,"x":-0.916,"y":0.416},{"n":20,"x":-0.785,"y":0.5},{"n":20,"x":-0.654,"y":0.584},{"n":20,"x":-0.524,"y":0.665},{"n":20,"x":-0.393,"y":0.753},{"n":20,"x":-0.262,"y":0.83},{"n":20,"x":-0.131,"y":0.922},{"n":20,"x":0,"y":0.98},{"n":20,"x":0.131,"y":0.922},{"n":20,"x":0.262,"y":0.83},{"n":20,"x":0.393,"y":0.753},{"n":20,"x":0.524,"y":0.665},{"n":20,"x":0.654,"y":0.584},{"n":20,"x":0.785,"y":0.5},{"n":20,"x":0.916,"y":0.416},{"n":20,"x":1.047,"y":0.335},{"n":20,"x":1.178,"y":0.248},{"n":20,"x":1.309,"y":0.169},{"n":20,"x":1.44,"y":0.081},{"n":20,"x":1.571,"y":0.01},{"n":20,"x":1.702,"y":-0.002},{"n":20,"x":1.833,"y":0.001},{"n":20,"x":1.963,"y":-0.001},{"n":20,"x":2.094,"y":0},{"n":20,"x":2.225,"y":0},{"n":20,"x":2.356,"y":0},{"n":20,"x":2.487,"y":0},{"n":20,"x":2.618,"y":0},{"n":20,"x":2.749,"y":0},{"n":20,"x":2.88,"y":0},{"n":20,"x":3.011,"y":0},{"n":20,"x":3.142,"y":0}
    ]
  },
  "hconcat": [
    {
      "width": 288,
      "height": 280,
      "title": {"text": "Função Pulso Triangular", "offset": 19.3},
      "data": {"name": "pulse"},
      "mark": {"type": "line", "color": "#1a1a1a", "strokeWidth": 1.8},
      "encoding": {
        "x": {"field": "x", "type": "quantitative", "scale": {"domain": [-3.456, 3.456], "nice": false, "zero": false}, "axis": {"values": [-3, -2, -1, 0, 1, 2, 3], "format": "d"}},
        "y": {"field": "y", "type": "quantitative", "scale": {"domain": [-0.05, 1.05], "nice": false, "zero": false}, "axis": {"values": [0, 0.2, 0.4, 0.6, 0.8, 1], "format": ".1f"}}
      }
    },
    {
      "width": 265,
      "height": 276.6,
      "view": {"stroke": null},
      "title": {"text": ["Aproximação pela Série de", "Fourier"], "offset": 0, "lineHeight": 23.4},
      "resolve": {"axis": {"x": "independent"}},
      "layer": [
        {
          "data": {"name": "pulse"},
          "mark": {"type": "line", "color": "#1a1a1a", "strokeWidth": 1.5, "clip": true},
          "encoding": {
            "x": {"field": "x", "type": "quantitative", "scale": {"domain": [-3.456, 3.19], "nice": false, "zero": false}, "axis": {"values": [-3, -2, -1, 0, 1, 2, 3], "format": "d", "domain": true}},
            "y": {"field": "y", "type": "quantitative", "scale": {"domain": [-0.2128, 1.0578], "range": [276.6, 6.6], "nice": false, "zero": false}, "axis": {"values": [-0.2, 0, 0.2, 0.4, 0.6, 0.8, 1], "format": ".1f", "domain": true}}
          }
        },
        {
          "data": {"name": "partial"},
          "mark": {"type": "line", "strokeWidth": 1.4, "clip": true},
          "encoding": {
            "x": {"field": "x", "type": "quantitative", "axis": {"orient": "top", "labels": false, "ticks": false, "domain": true, "offset": -6.6}},
            "y": {"field": "y", "type": "quantitative"},
            "color": {
              "field": "n", "type": "ordinal", "legend": null,
              "scale": {
                "domain": [1, 2, 3, 4, 5, 6, 7, 8, 9, 10, 11, 12, 13, 14, 15, 16, 17, 18, 19, 20],
                "range": ["#1f77b4", "#ff7f0e", "#2ca02c", "#d62728", "#9467bd", "#8c564b", "#e377c2", "#7f7f7f", "#bcbd22", "#17becf", "#1f77b4", "#ff7f0e", "#2ca02c", "#d62728", "#9467bd", "#8c564b", "#e377c2", "#7f7f7f", "#bcbd22", "#17becf"]
              }
            }
          }
        },
        {
          "data": {"values": [{}]},
          "mark": {"type": "text", "font": "Liberation Sans", "fontSize": 15, "align": "left", "baseline": "alphabetic", "color": "#1a1a1a"},
          "encoding": {
            "x": {"datum": 2.03, "type": "quantitative", "axis": null},
            "y": {"datum": 0.912, "type": "quantitative"},
            "text": {"value": "n=20"}
          }
        }
      ]
    }
  ]
}
